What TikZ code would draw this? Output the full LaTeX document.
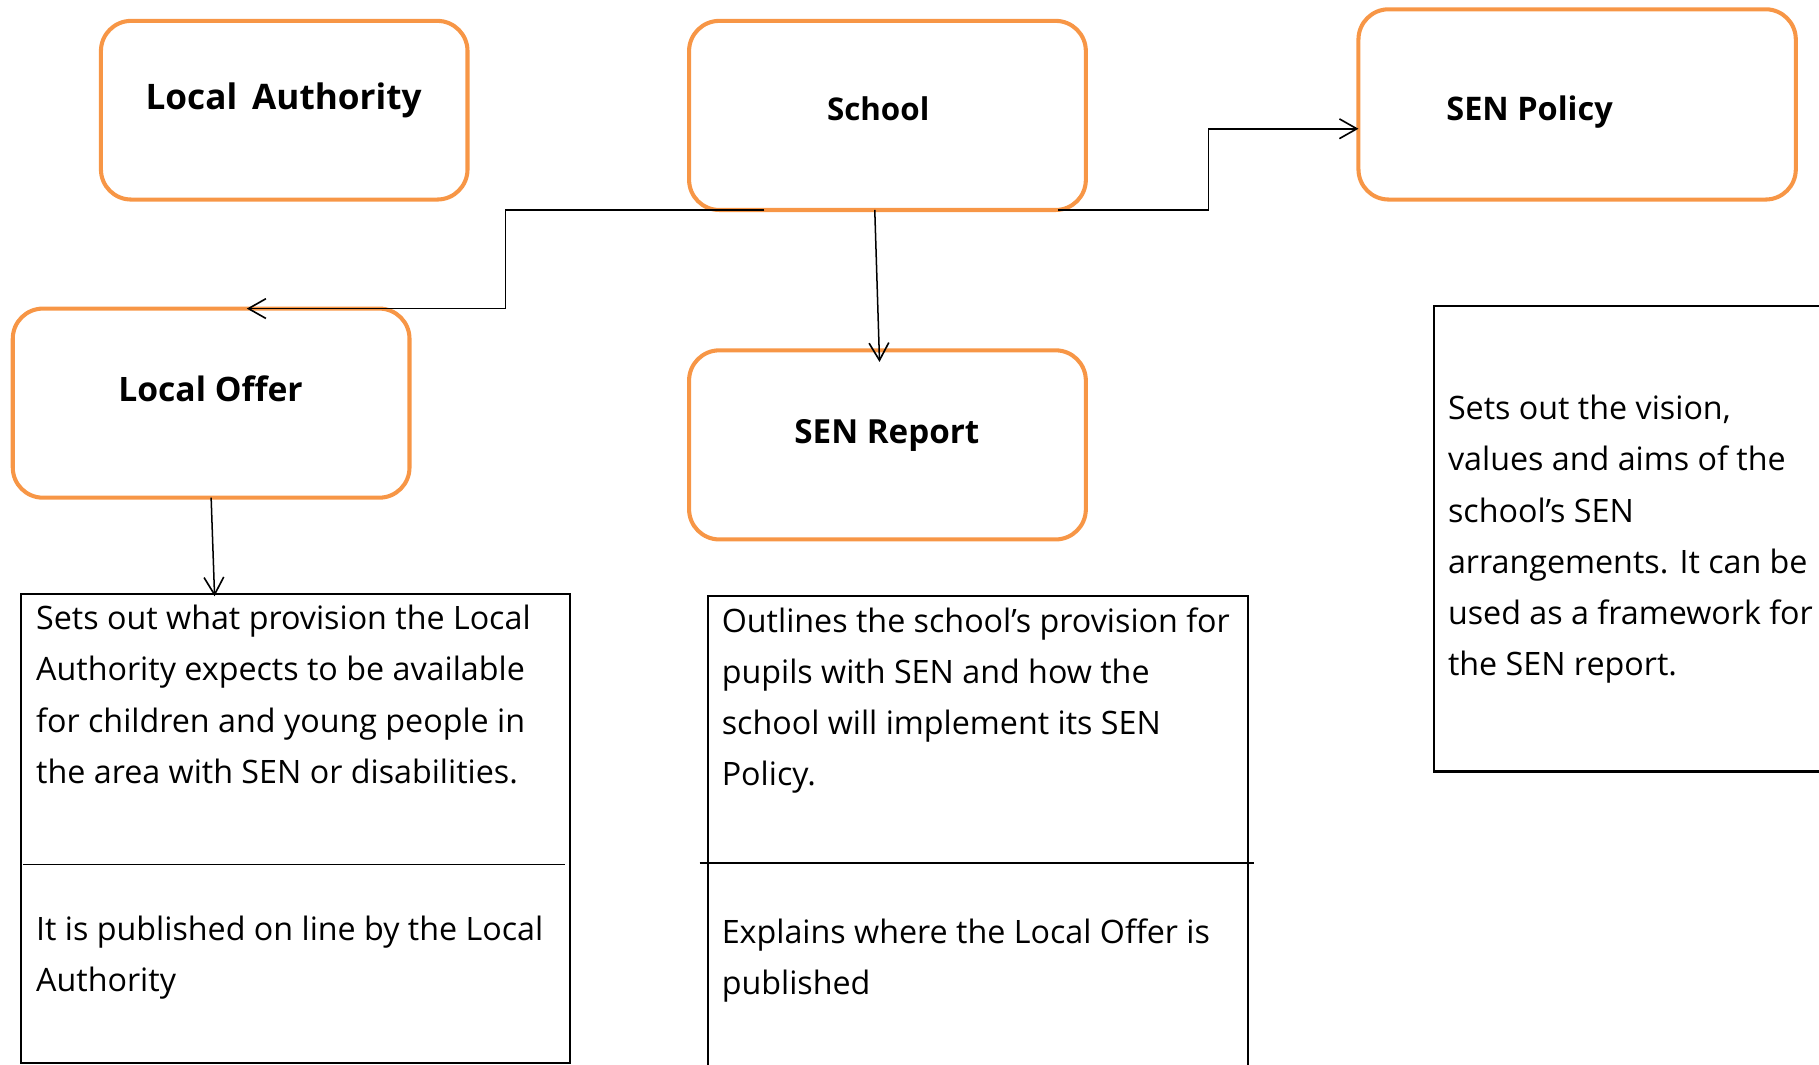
\documentclass[tikz,border=0pt]{standalone}
\usepackage{fontspec}
\setmainfont{Open Sans}
\usetikzlibrary{arrows.meta,calc}
\definecolor{boxorange}{HTML}{F79646}
\begin{document}
\begin{tikzpicture}[x=1pt,y=-1pt,
  obox/.style={draw=boxorange, line width=3.5pt, rounded corners=26pt, inner sep=0pt, outer sep=0pt, anchor=north west},
  tbox/.style={draw=black, line width=1.8pt, inner sep=0pt, outer sep=0pt, anchor=north west},
  head/.style={font=\bfseries\fontsize{28}{32}\selectfont, inner sep=0pt, anchor=base},
  body/.style={font=\fontsize{27.8}{44}\selectfont, inner sep=0pt, anchor=base west},
  conn/.style={draw=black, line width=1.3pt},
  arr/.style={conn, -{Straight Barb[length=15pt,width=17pt,line width=1.4pt]}}]
\useasboundingbox (0,0) rectangle (1568,918);

% orange boxes
\node[obox, minimum width=316pt, minimum height=154pt] (la) at (87,18) {};
\node[obox, minimum width=342pt, minimum height=163pt] (sch) at (594,18) {};
\node[obox, minimum width=377pt, minimum height=164pt] (pol) at (1171,8) {};
\node[obox, minimum width=342pt, minimum height=163pt] (lo) at (11,266) {};
\node[obox, minimum width=342pt, minimum height=163pt] (rep) at (594,302) {};

% headings
\node[head, font=\bfseries\fontsize{30.3}{34}\selectfont] (lat) at (244.5,94) {Local\, Authority};
\node[head, font=\bfseries\fontsize{27}{32}\selectfont] (scht) at (757,104) {School};
\node[head] (polt) at (1318.5,104) {SEN Policy};
\node[head, font=\bfseries\fontsize{29}{32}\selectfont] (lot) at (181.5,346) {Local Offer};
\node[head, font=\bfseries\fontsize{28.6}{32}\selectfont] (rept) at (764.5,382) {SEN Report};

% text boxes
\node[tbox, minimum width=473pt, minimum height=404pt] (tl) at (18,512) {};
\node[tbox, minimum width=466pt, minimum height=430pt] (tm) at (610,514) {};
\node[tbox, minimum width=360pt, minimum height=401pt] (tr) at (1236,264) {};

% dividers
\coordinate (dl1) at (20,745);
\coordinate (dl2) at (487,745);
\draw[conn] (dl1) -- (dl2);
\coordinate (dm1) at (603,744);
\coordinate (dm2) at (1081,744);
\draw[conn] (dm1) -- (dm2);

\node[body] (tl1) at (31,543) {\begin{tabular}[t]{@{}l@{}}Sets out what provision the Local\\Authority expects to be available\\for children and young people in\\the area with SEN or disabilities.\end{tabular}};
\node[body] (tl2) at (31,811) {\begin{tabular}[t]{@{}l@{}}It is published on line by the Local\\Authority\end{tabular}};
\node[body] (tm1) at (622,545) {\begin{tabular}[t]{@{}l@{}}Outlines the school’s provision for\\pupils with SEN and how the\\school will implement its SEN\\Policy.\end{tabular}};
\node[body] (tm2) at (622,813) {\begin{tabular}[t]{@{}l@{}}Explains where the Local Offer is\\published\end{tabular}};
\node[body] (tr1) at (1248,362) {\begin{tabular}[t]{@{}l@{}}Sets out the vision,\\values and aims of the\\school’s SEN\\arrangements. It can be\\used as a framework for\\the SEN report.\end{tabular}};

% connectors
\coordinate (a1) at ($(sch.south west)!0.19!(sch.south east)$);
\coordinate (b1) at ($(lo.north west)!0.59!(lo.north east)$);
\draw[arr] (a1) -| ($(a1)!0.5!(b1)$) |- (b1);
\coordinate (a2) at ($(sch.south west)!0.93!(sch.south east)$);
\coordinate (b2) at ($(pol.north west)!0.628!(pol.south west)$);
\draw[arr] (a2) -| ($(a2)!0.5!(b2)$) |- (b2);
\coordinate (a3) at ($(sch.south west)!0.468!(sch.south east)$);
\coordinate (b3) at ($(rep.north west)!0.48!(rep.north east)+(0,10)$);
\draw[arr] (a3) -- (b3);
\coordinate (b4) at ($(tl.north west)!0.353!(tl.north east)+(0,2)$);
\draw[arr] (lo.south) -- (b4);
\end{tikzpicture}
\end{document}
